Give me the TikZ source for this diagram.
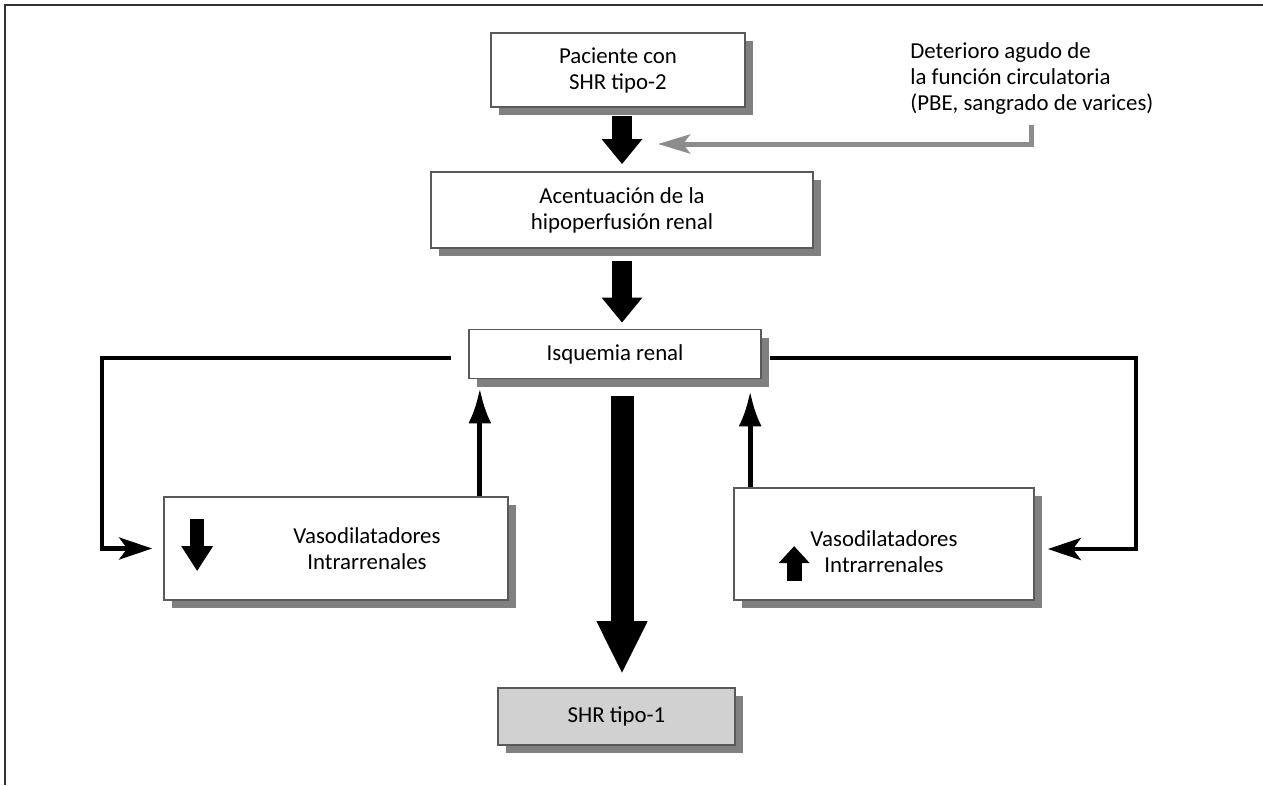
\documentclass[tikz,border=0pt]{standalone}
\usepackage{fontspec}
\setmainfont{Carlito}
\usepackage{tikz}
\usetikzlibrary{positioning,calc,arrows.meta,shadows}

\begin{document}
\begin{tikzpicture}[
    x=0.02cm, y=-0.02cm,
    font=\fontsize{13}{14.8}\selectfont,
    % Hộp thường (có bóng đổ)
    box/.style={
        rectangle, draw=black!65, line width=1pt, fill=white,
        inner sep=0pt, align=center,
        drop shadow={shadow xshift=0.16cm, shadow yshift=-0.16cm,
                     fill=black!50, opacity=1}
    },
    % Hộp kết quả (nền xám)
    graybox/.style={box, fill=black!18},
    % Mũi tên khối đậm
    fat_arrow/.style={-{Triangle[width=0.78cm,length=0.5cm]}, line width=0.4cm},
    big_arrow/.style={-{Triangle[width=0.94cm,length=1.06cm]}, line width=0.46cm},
    % Mũi tên vòng hồi tiếp
    loop_arrow/.style={-{Stealth[length=0.66cm,width=0.44cm,inset=0.16cm]}, line width=0.09cm},
    % Mũi tên đi lên
    up_arrow/.style={-{Latex[length=0.7cm,width=0.46cm]}, line width=0.1cm},
    % Mũi tên xám
    gray_arrow/.style={-{Stealth[length=0.64cm,width=0.38cm,inset=0.14cm]}, black!45, line width=0.1cm},
    % Biểu tượng nhỏ trong hộp
    icon/.style={line width=0.27cm}
]
    \useasboundingbox (0,0) rectangle (1263,785);

    % --- Khung ---
    \draw[black!80, line width=1.2pt] (5,785) -- (5,5) -- (1263,5);

    % --- Cột chính ---
    \node[box, minimum width=5.08cm, minimum height=1.48cm] (pac) at (618,70) {Paciente con\\SHR tipo-2};
    \node[box, minimum width=7.64cm, minimum height=1.52cm] (acen) at (622,210) {Acentuación de la\\hipoperfusión renal};
    \node[box, minimum width=5.84cm, minimum height=0.98cm] (isq) at (615,354) {Isquemia renal};
    \node[graybox, minimum width=4.74cm, minimum height=1.14cm] (shr) at (616.5,716.5) {SHR tipo-1};

    % --- Hai hộp bên ---
    \node[box, minimum width=6.88cm, minimum height=2.06cm,
          label={[xshift=0.62cm, align=center]center:Vasodilatadores\\Intrarrenales}] (vdown) at (336,548.5) {};
    \node[box, minimum width=6cm, minimum height=2.24cm,
          label={[yshift=-0.16cm, align=center]center:Vasodilatadores\\Intrarrenales}] (vup) at (884,544) {};

    % Ghi chú bên phải
    \node[align=left, anchor=west, inner sep=0pt] (det) at (910,79) {Deterioro agudo de\\la función circulatoria\\(PBE, sangrado de varices)};
    \coordinate (gtip) at (658,144);

    % --- Mũi tên chính ---
    \draw[fat_arrow] ($(pac.south -| acen.north)+(0,8)$) -- ($(acen.north)+(0,-7)$);
    \draw[fat_arrow] ($(acen.south)+(0,12)$) -- ($(acen.south |- isq.north)+(0,-6)$);
    \draw[big_arrow] ($(isq.south -| acen.south)+(0,17)$) -- ($(shr.north -| acen.south)+(0,-13)$);
    \draw[gray_arrow] ($(det.south)+(0,10)$) |- (gtip);

    % --- Vòng hồi tiếp ---
    \draw[loop_arrow] ($(isq.west)+(-17,4)$) -- ++(-349,0) |- ($(vdown.west)+(-11,0)$);
    \draw[loop_arrow] ($(isq.east)+(8,4)$) -- ++(366,0) |- ($(vup.east)+(13,5)$);
    \draw[up_arrow] ($(vdown.north east)+(-29,0)$) -- ($(vdown.north east |- isq.south)+(-29,9)$);
    \draw[up_arrow] ($(vup.north west)+(17,0)$) -- ($(vup.north west |- isq.south)+(17,12)$);

    % Biểu tượng giảm / tăng
    \draw[icon, -{Triangle[width=0.6cm,length=0.5cm]}] ($(vdown.north west)+(34,23)$) -- ++(0,52);
    \draw[icon, line width=0.3cm, -{Triangle[width=0.6cm,length=0.34cm]}] ($(vup.north west)+(61,94)$) -- ++(0,-35);

\end{tikzpicture}
\end{document}
